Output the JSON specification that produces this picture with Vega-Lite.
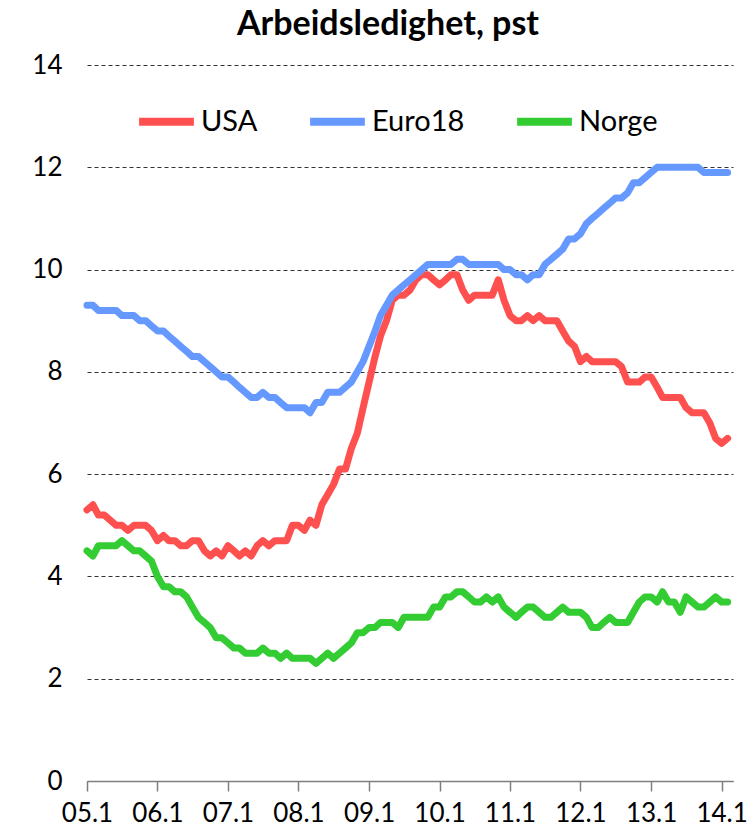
{
  "$schema": "https://vega.github.io/schema/vega-lite/v6.json",
  "autosize": {"type": "none"},
  "padding": {"left": 87, "top": 65, "right": 22, "bottom": 53},
  "width": 646,
  "height": 716,
  "background": "white",
  "config": {"view": {"stroke": null}, "font": "Lato"},
  "title": {"text": "Arbeidsledighet, pst", "fontSize": 34, "fontWeight": "bold", "font": "Lato", "color": "#000", "anchor": "middle", "dx": -22, "offset": 10},
  "data": {"values": [
    {"d":"2005-01-01","USA":5.3,"Euro18":9.3,"Norge":4.5},
    {"d":"2005-02-01","USA":5.4,"Euro18":9.3,"Norge":4.4},
    {"d":"2005-03-01","USA":5.2,"Euro18":9.2,"Norge":4.6},
    {"d":"2005-04-01","USA":5.2,"Euro18":9.2,"Norge":4.6},
    {"d":"2005-05-01","USA":5.1,"Euro18":9.2,"Norge":4.6},
    {"d":"2005-06-01","USA":5.0,"Euro18":9.2,"Norge":4.6},
    {"d":"2005-07-01","USA":5.0,"Euro18":9.1,"Norge":4.7},
    {"d":"2005-08-01","USA":4.9,"Euro18":9.1,"Norge":4.6},
    {"d":"2005-09-01","USA":5.0,"Euro18":9.1,"Norge":4.5},
    {"d":"2005-10-01","USA":5.0,"Euro18":9.0,"Norge":4.5},
    {"d":"2005-11-01","USA":5.0,"Euro18":9.0,"Norge":4.4},
    {"d":"2005-12-01","USA":4.9,"Euro18":8.9,"Norge":4.3},
    {"d":"2006-01-01","USA":4.7,"Euro18":8.8,"Norge":4.0},
    {"d":"2006-02-01","USA":4.8,"Euro18":8.8,"Norge":3.8},
    {"d":"2006-03-01","USA":4.7,"Euro18":8.7,"Norge":3.8},
    {"d":"2006-04-01","USA":4.7,"Euro18":8.6,"Norge":3.7},
    {"d":"2006-05-01","USA":4.6,"Euro18":8.5,"Norge":3.7},
    {"d":"2006-06-01","USA":4.6,"Euro18":8.4,"Norge":3.6},
    {"d":"2006-07-01","USA":4.7,"Euro18":8.3,"Norge":3.4},
    {"d":"2006-08-01","USA":4.7,"Euro18":8.3,"Norge":3.2},
    {"d":"2006-09-01","USA":4.5,"Euro18":8.2,"Norge":3.1},
    {"d":"2006-10-01","USA":4.4,"Euro18":8.1,"Norge":3.0},
    {"d":"2006-11-01","USA":4.5,"Euro18":8.0,"Norge":2.8},
    {"d":"2006-12-01","USA":4.4,"Euro18":7.9,"Norge":2.8},
    {"d":"2007-01-01","USA":4.6,"Euro18":7.9,"Norge":2.7},
    {"d":"2007-02-01","USA":4.5,"Euro18":7.8,"Norge":2.6},
    {"d":"2007-03-01","USA":4.4,"Euro18":7.7,"Norge":2.6},
    {"d":"2007-04-01","USA":4.5,"Euro18":7.6,"Norge":2.5},
    {"d":"2007-05-01","USA":4.4,"Euro18":7.5,"Norge":2.5},
    {"d":"2007-06-01","USA":4.6,"Euro18":7.5,"Norge":2.5},
    {"d":"2007-07-01","USA":4.7,"Euro18":7.6,"Norge":2.6},
    {"d":"2007-08-01","USA":4.6,"Euro18":7.5,"Norge":2.5},
    {"d":"2007-09-01","USA":4.7,"Euro18":7.5,"Norge":2.5},
    {"d":"2007-10-01","USA":4.7,"Euro18":7.4,"Norge":2.4},
    {"d":"2007-11-01","USA":4.7,"Euro18":7.3,"Norge":2.5},
    {"d":"2007-12-01","USA":5.0,"Euro18":7.3,"Norge":2.4},
    {"d":"2008-01-01","USA":5.0,"Euro18":7.3,"Norge":2.4},
    {"d":"2008-02-01","USA":4.9,"Euro18":7.3,"Norge":2.4},
    {"d":"2008-03-01","USA":5.1,"Euro18":7.2,"Norge":2.4},
    {"d":"2008-04-01","USA":5.0,"Euro18":7.4,"Norge":2.3},
    {"d":"2008-05-01","USA":5.4,"Euro18":7.4,"Norge":2.4},
    {"d":"2008-06-01","USA":5.6,"Euro18":7.6,"Norge":2.5},
    {"d":"2008-07-01","USA":5.8,"Euro18":7.6,"Norge":2.4},
    {"d":"2008-08-01","USA":6.1,"Euro18":7.6,"Norge":2.5},
    {"d":"2008-09-01","USA":6.1,"Euro18":7.7,"Norge":2.6},
    {"d":"2008-10-01","USA":6.5,"Euro18":7.8,"Norge":2.7},
    {"d":"2008-11-01","USA":6.8,"Euro18":8.0,"Norge":2.9},
    {"d":"2008-12-01","USA":7.3,"Euro18":8.2,"Norge":2.9},
    {"d":"2009-01-01","USA":7.8,"Euro18":8.5,"Norge":3.0},
    {"d":"2009-02-01","USA":8.3,"Euro18":8.8,"Norge":3.0},
    {"d":"2009-03-01","USA":8.7,"Euro18":9.1,"Norge":3.1},
    {"d":"2009-04-01","USA":9.0,"Euro18":9.3,"Norge":3.1},
    {"d":"2009-05-01","USA":9.4,"Euro18":9.5,"Norge":3.1},
    {"d":"2009-06-01","USA":9.5,"Euro18":9.6,"Norge":3.0},
    {"d":"2009-07-01","USA":9.5,"Euro18":9.7,"Norge":3.2},
    {"d":"2009-08-01","USA":9.6,"Euro18":9.8,"Norge":3.2},
    {"d":"2009-09-01","USA":9.8,"Euro18":9.9,"Norge":3.2},
    {"d":"2009-10-01","USA":9.9,"Euro18":10.0,"Norge":3.2},
    {"d":"2009-11-01","USA":9.9,"Euro18":10.1,"Norge":3.2},
    {"d":"2009-12-01","USA":9.8,"Euro18":10.1,"Norge":3.4},
    {"d":"2010-01-01","USA":9.7,"Euro18":10.1,"Norge":3.4},
    {"d":"2010-02-01","USA":9.8,"Euro18":10.1,"Norge":3.6},
    {"d":"2010-03-01","USA":9.9,"Euro18":10.1,"Norge":3.6},
    {"d":"2010-04-01","USA":9.9,"Euro18":10.2,"Norge":3.7},
    {"d":"2010-05-01","USA":9.6,"Euro18":10.2,"Norge":3.7},
    {"d":"2010-06-01","USA":9.4,"Euro18":10.1,"Norge":3.6},
    {"d":"2010-07-01","USA":9.5,"Euro18":10.1,"Norge":3.5},
    {"d":"2010-08-01","USA":9.5,"Euro18":10.1,"Norge":3.5},
    {"d":"2010-09-01","USA":9.5,"Euro18":10.1,"Norge":3.6},
    {"d":"2010-10-01","USA":9.5,"Euro18":10.1,"Norge":3.5},
    {"d":"2010-11-01","USA":9.8,"Euro18":10.1,"Norge":3.6},
    {"d":"2010-12-01","USA":9.4,"Euro18":10.0,"Norge":3.4},
    {"d":"2011-01-01","USA":9.1,"Euro18":10.0,"Norge":3.3},
    {"d":"2011-02-01","USA":9.0,"Euro18":9.9,"Norge":3.2},
    {"d":"2011-03-01","USA":9.0,"Euro18":9.9,"Norge":3.3},
    {"d":"2011-04-01","USA":9.1,"Euro18":9.8,"Norge":3.4},
    {"d":"2011-05-01","USA":9.0,"Euro18":9.9,"Norge":3.4},
    {"d":"2011-06-01","USA":9.1,"Euro18":9.9,"Norge":3.3},
    {"d":"2011-07-01","USA":9.0,"Euro18":10.1,"Norge":3.2},
    {"d":"2011-08-01","USA":9.0,"Euro18":10.2,"Norge":3.2},
    {"d":"2011-09-01","USA":9.0,"Euro18":10.3,"Norge":3.3},
    {"d":"2011-10-01","USA":8.8,"Euro18":10.4,"Norge":3.4},
    {"d":"2011-11-01","USA":8.6,"Euro18":10.6,"Norge":3.3},
    {"d":"2011-12-01","USA":8.5,"Euro18":10.6,"Norge":3.3},
    {"d":"2012-01-01","USA":8.2,"Euro18":10.7,"Norge":3.3},
    {"d":"2012-02-01","USA":8.3,"Euro18":10.9,"Norge":3.2},
    {"d":"2012-03-01","USA":8.2,"Euro18":11.0,"Norge":3.0},
    {"d":"2012-04-01","USA":8.2,"Euro18":11.1,"Norge":3.0},
    {"d":"2012-05-01","USA":8.2,"Euro18":11.2,"Norge":3.1},
    {"d":"2012-06-01","USA":8.2,"Euro18":11.3,"Norge":3.2},
    {"d":"2012-07-01","USA":8.2,"Euro18":11.4,"Norge":3.1},
    {"d":"2012-08-01","USA":8.1,"Euro18":11.4,"Norge":3.1},
    {"d":"2012-09-01","USA":7.8,"Euro18":11.5,"Norge":3.1},
    {"d":"2012-10-01","USA":7.8,"Euro18":11.7,"Norge":3.3},
    {"d":"2012-11-01","USA":7.8,"Euro18":11.7,"Norge":3.5},
    {"d":"2012-12-01","USA":7.9,"Euro18":11.8,"Norge":3.6},
    {"d":"2013-01-01","USA":7.9,"Euro18":11.9,"Norge":3.6},
    {"d":"2013-02-01","USA":7.7,"Euro18":12.0,"Norge":3.5},
    {"d":"2013-03-01","USA":7.5,"Euro18":12.0,"Norge":3.7},
    {"d":"2013-04-01","USA":7.5,"Euro18":12.0,"Norge":3.5},
    {"d":"2013-05-01","USA":7.5,"Euro18":12.0,"Norge":3.5},
    {"d":"2013-06-01","USA":7.5,"Euro18":12.0,"Norge":3.3},
    {"d":"2013-07-01","USA":7.3,"Euro18":12.0,"Norge":3.6},
    {"d":"2013-08-01","USA":7.2,"Euro18":12.0,"Norge":3.5},
    {"d":"2013-09-01","USA":7.2,"Euro18":12.0,"Norge":3.4},
    {"d":"2013-10-01","USA":7.2,"Euro18":11.9,"Norge":3.4},
    {"d":"2013-11-01","USA":7.0,"Euro18":11.9,"Norge":3.5},
    {"d":"2013-12-01","USA":6.7,"Euro18":11.9,"Norge":3.6},
    {"d":"2014-01-01","USA":6.6,"Euro18":11.9,"Norge":3.5},
    {"d":"2014-02-01","USA":6.7,"Euro18":11.9,"Norge":3.5}
  ]},
  "transform": [{"fold": ["USA", "Euro18", "Norge"], "as": ["serie", "verdi"]}],
  "mark": {"type": "line", "strokeWidth": 7, "strokeCap": "round", "strokeJoin": "round"},
  "encoding": {
    "x": {
      "field": "d", "type": "temporal",
      "scale": {"type": "utc", "domain": ["2005-01-01", "2014-03-01"]},
      "axis": {
        "title": null, "format": "%y.%-m", "tickCount": {"interval": "year", "step": 1},
        "grid": false, "domainColor": "#7f7f7f", "domainWidth": 1.5, "tickColor": "#7f7f7f", "tickWidth": 1.5, "tickSize": 10,
        "labelFontSize": 26, "labelColor": "#000", "labelPadding": 9, "labelFlush": false, "labelOverlap": false, "labelFont": "Lato"
      }
    },
    "y": {
      "field": "verdi", "type": "quantitative",
      "scale": {"domain": [0, 14], "nice": false, "zero": true},
      "axis": {
        "title": null, "values": [0, 2, 4, 6, 8, 10, 12, 14], "ticks": false, "domain": false,
        "grid": true, "gridDash": [4, 3], "gridColor": "#333333", "gridWidth": 1.2,
        "labelFontSize": 26, "labelColor": "#000", "labelPadding": 25, "labelFont": "Lato"
      }
    },
    "color": {
      "field": "serie", "type": "nominal",
      "scale": {"domain": ["USA", "Euro18", "Norge"], "range": ["#FF5050", "#6699FF", "#33CC33"]},
      "legend": {
        "title": null, "orient": "none", "legendX": 48, "legendY": 25, "direction": "horizontal",
        "symbolType": "stroke", "symbolSize": 3000, "symbolStrokeWidth": 8,
        "labelFontSize": 29, "labelColor": "#000", "labelFont": "Lato", "labelOffset": 3, "columnPadding": 36
      }
    }
  }
}
